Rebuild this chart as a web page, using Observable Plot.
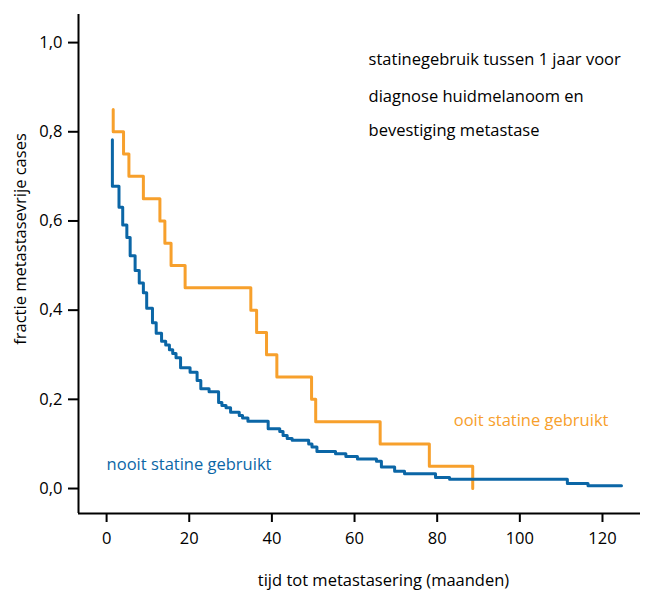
<!DOCTYPE html>
<html><head><meta charset="utf-8">
<script src="https://cdn.jsdelivr.net/npm/d3@7"></script>
<script src="https://cdn.jsdelivr.net/npm/@observablehq/plot@0.6"></script>
<style>
html,body{margin:0;padding:0;background:#fff;}
#chart{width:647px;height:592px;}
</style></head><body><div id="chart"></div>
<script>
// Kaplan-Meier: "ooit statine gebruikt"
const ooitTime = [1.6,1.6,4.1,5.4,8.9,12.9,14.1,15.6,19.0,34.9,36.3,38.7,41.2,49.6,50.6,66.2,78.1,88.6];
const ooitSurv = [0.85,0.80,0.75,0.70,0.65,0.60,0.55,0.50,0.45,0.40,0.35,0.30,0.25,0.20,0.15,0.10,0.05,0.0];
// Kaplan-Meier: "nooit statine gebruikt"
const nooitTime = [1.4,1.4,3.0,3.9,4.9,5.7,6.9,7.9,8.9,9.7,11.1,12.0,13.3,14.3,15.2,16.0,16.8,17.9,20.2,21.9,22.8,24.8,27.1,27.9,28.9,30.0,32.1,32.9,34.2,39.1,41.9,42.7,43.7,44.9,48.9,49.7,50.9,55.4,57.9,60.7,65.3,66.5,69.7,72.1,79.6,83.0,111.5,116.5,124.6];
const nooitSurv = [0.782,0.678,0.631,0.591,0.563,0.522,0.489,0.461,0.439,0.404,0.372,0.348,0.330,0.322,0.311,0.303,0.293,0.271,0.261,0.242,0.224,0.217,0.193,0.186,0.181,0.171,0.164,0.158,0.151,0.134,0.128,0.119,0.112,0.108,0.100,0.093,0.083,0.078,0.072,0.066,0.061,0.048,0.039,0.033,0.025,0.021,0.011,0.006,0.006];

const xTicks = [0,20,40,60,80,100,120];
const yTicks = [0,0.2,0.4,0.6,0.8,1.0];
const xDomain = [-6.8, 129.2];
const yDomain = [-0.056, 1.063];

const xLabel = "tijd tot metastasering (maanden)";
const yLabel = "fractie metastasevrije cases";
const noteLines = ["statinegebruik tussen 1 jaar voor","diagnose huidmelanoom en","bevestiging metastase"];
const noteX = 63.4;
const noteY = [0.962, 0.879, 0.803];
const seriesLabels = ["ooit statine gebruikt","nooit statine gebruikt"];
const seriesLabelX = [84, 0];
const seriesLabelY = [0.152, 0.054];

const ORANGE = "#F7A02C";
const BLUE = "#0B66A6";
const colors = [ORANGE, BLUE];

const ooit = ooitTime.map((t,i)=>({t, s: ooitSurv[i]}));
const nooit = nooitTime.map((t,i)=>({t, s: nooitSurv[i]}));
const notes = noteLines.map((txt,i)=>({txt, x: noteX, y: noteY[i]}));
const slabels = seriesLabels.map((txt,i)=>({txt, x: seriesLabelX[i], y: seriesLabelY[i], c: colors[i]}));

const fmt = d => d.toFixed(1).replace(".", ",");
const FONT = "Open Sans";
const FS = 16.5;

const chart = Plot.plot({
  width: 647, height: 592,
  marginLeft: 78, marginRight: 7, marginTop: 14, marginBottom: 79,
  style: {fontFamily: FONT, fontSize: FS + "px", color: "#000", background: "#fff"},
  x: {domain: xDomain, ticks: xTicks},
  y: {domain: yDomain, ticks: yTicks},
  marks: [
    Plot.axisX({ticks: xTicks, tickSize: 9, tickPadding: 10, label: null, fontSize: FS, strokeWidth: 2, fill: "#000"}),
    Plot.axisY({ticks: yTicks, tickSize: 10, tickPadding: 6, label: null, fontSize: FS, strokeWidth: 2, tickFormat: fmt, fill: "#000"}),
    Plot.ruleX([xDomain[0]], {stroke: "#000", strokeWidth: 2}),
    Plot.ruleY([yDomain[0]], {stroke: "#000", strokeWidth: 2}),
    Plot.line(ooit, {x: "t", y: "s", curve: "step-after", stroke: ORANGE, strokeWidth: 3}),
    Plot.line(nooit, {x: "t", y: "s", curve: "step-after", stroke: BLUE, strokeWidth: 3}),
    Plot.text(notes, {x: "x", y: "y", text: "txt", textAnchor: "start", fill: "#000", fontSize: FS}),
    Plot.text(slabels, {x: "x", y: "y", text: "txt", textAnchor: "start", fill: d => d.c, fontSize: FS}),
    Plot.text([xLabel], {frameAnchor: "bottom", text: d => d, textAnchor: "middle", lineAnchor: "middle", dy: 67, dx: 24, fill: "#000", fontSize: FS}),
    Plot.text([yLabel], {frameAnchor: "left", text: d => d, textAnchor: "middle", lineAnchor: "middle", rotate: -90, dx: -58, dy: -25, fill: "#000", fontSize: FS})
  ]
});
document.getElementById("chart").appendChild(chart);
</script></body></html>
